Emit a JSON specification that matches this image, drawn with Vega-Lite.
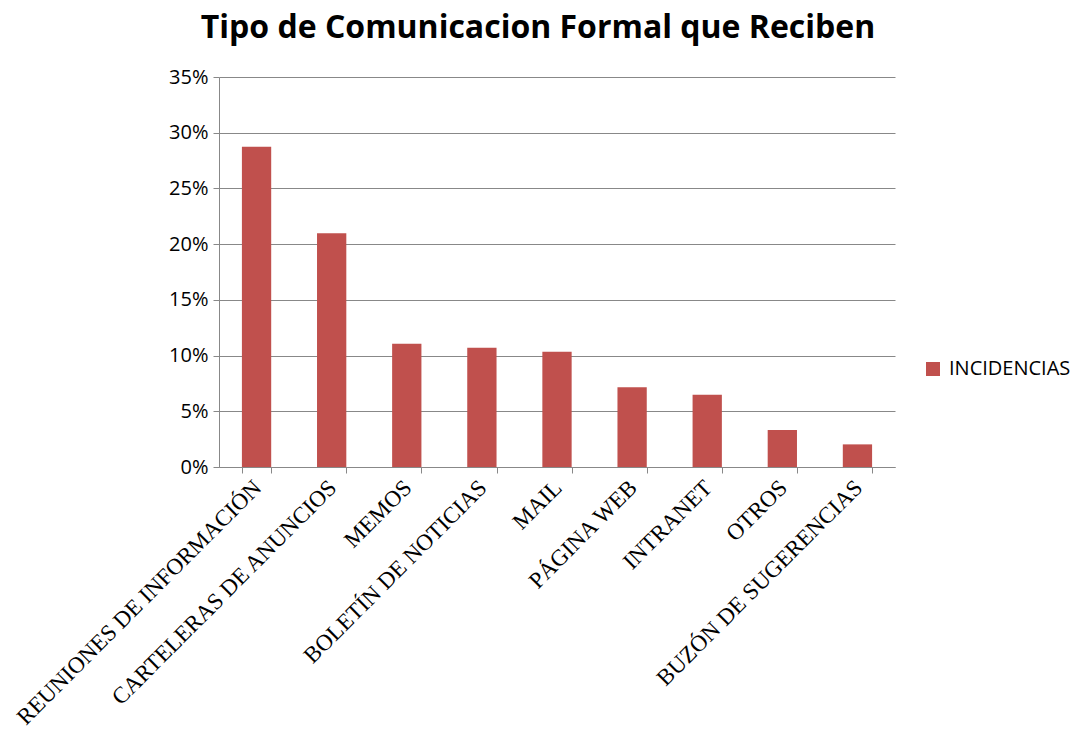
{
  "$schema": "https://vega.github.io/schema/vega-lite/v6.json",
  "width": 676,
  "height": 390,
  "autosize": {"type": "none"},
  "padding": {"left": 219, "top": 77, "right": 186, "bottom": 266},
  "background": "white",
  "title": {
    "text": "Tipo de Comunicacion Formal que Reciben",
    "font": "Open Sans",
    "fontWeight": "bold",
    "fontSize": 32,
    "color": "#000000",
    "anchor": "middle",
    "dx": -19,
    "offset": 22
  },
  "data": {
    "values": [
      {"tipo": "REUNIONES DE INFORMACIÓN", "valor": 0.2874},
      {"tipo": "CARTELERAS DE ANUNCIOS", "valor": 0.2097},
      {"tipo": "MEMOS", "valor": 0.1107},
      {"tipo": "BOLETÍN DE NOTICIAS", "valor": 0.1071},
      {"tipo": "MAIL", "valor": 0.1035},
      {"tipo": "PÁGINA WEB", "valor": 0.0715},
      {"tipo": "INTRANET", "valor": 0.0649},
      {"tipo": "OTROS", "valor": 0.0332},
      {"tipo": "BUZÓN DE SUGERENCIAS", "valor": 0.0203}
    ]
  },
  "mark": {"type": "bar", "color": "#C0504D"},
  "encoding": {
    "x": {
      "field": "tipo",
      "type": "nominal",
      "sort": null,
      "scale": {"paddingInner": 0.61, "paddingOuter": 0.305},
      "axis": {
        "title": null,
        "labelAngle": -45,
        "labelFont": "Liberation Serif",
        "labelFontSize": 23,
        "labelColor": "#000000",
        "labelPadding": 3,
        "labelOffset": -7,
        "tickBand": "extent",
        "tickSize": 6,
        "tickColor": "#888888",
        "domainColor": "#888888",
        "labelLimit": 0
      }
    },
    "y": {
      "field": "valor",
      "type": "quantitative",
      "scale": {"domain": [0, 0.35]},
      "axis": {
        "title": null,
        "values": [0, 0.05, 0.1, 0.15, 0.2, 0.25, 0.3, 0.35],
        "format": ".0%",
        "labelFont": "Open Sans",
        "labelFontSize": 20,
        "labelColor": "#000000",
        "labelPadding": 5,
        "tickSize": 6,
        "tickColor": "#888888",
        "gridColor": "#888888",
        "domainColor": "#888888"
      }
    },
    "color": {
      "datum": "INCIDENCIAS",
      "scale": {"range": ["#C0504D"]},
      "legend": {
        "title": null,
        "orient": "none",
        "legendX": 704,
        "legendY": 282,
        "symbolType": "square",
        "symbolSize": 196,
        "symbolStrokeWidth": 0,
        "labelFont": "Open Sans",
        "labelFontSize": 20,
        "labelColor": "#000000",
        "labelOffset": 6
      }
    }
  },
  "config": {"view": {"stroke": null}}
}
